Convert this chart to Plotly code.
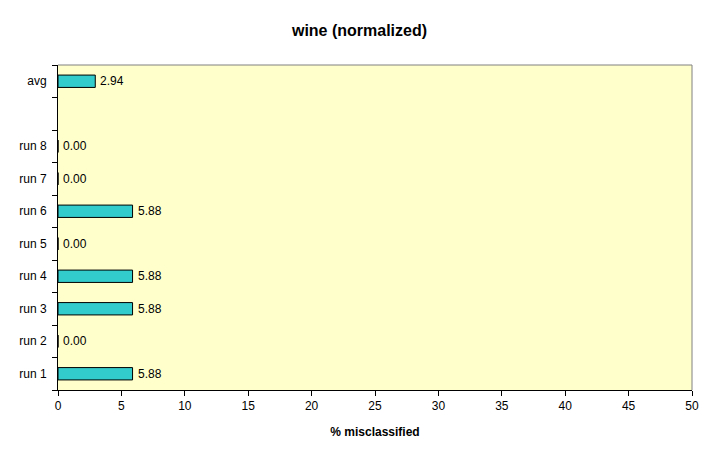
import plotly.graph_objects as go

categories = ["run 1", "run 2", "run 3", "run 4", "run 5", "run 6", "run 7", "run 8", " ", "avg"]
values = [5.88, 0.00, 5.88, 5.88, 0.00, 5.88, 0.00, 0.00, None, 2.94]
labels = ["5.88", "0.00", "5.88", "5.88", "0.00", "5.88", "0.00", "0.00", "", "2.94"]
x_ticks = [0, 5, 10, 15, 20, 25, 30, 35, 40, 45, 50]

font = "Liberation Sans, Arial, sans-serif"

fig = go.Figure()
fig.add_trace(go.Bar(
    x=values, y=categories, orientation="h",
    marker=dict(color="#33CCCC", line=dict(color="black", width=1)),
    hoverinfo="skip",
))

for v, c, t in zip(values, categories, labels):
    if v is None:
        continue
    fig.add_annotation(x=v, y=c, text=t, showarrow=False, xanchor="left",
                       yanchor="middle", xshift=3,
                       font=dict(family=font, size=12, color="black"))

fig.update_layout(
    width=719, height=461,
    margin=dict(l=58, r=27, t=65, b=71),
    paper_bgcolor="white", plot_bgcolor="#FFFFCC",
    showlegend=False, bargap=0.62,
    title=dict(text="<b>wine (normalized)</b>", x=0.5, xanchor="center",
               y=1 - 30 / 461, yanchor="middle",
               font=dict(family=font, size=16, color="black")),
    font=dict(family=font, size=12, color="black"),
)
fig.update_xaxes(
    range=[0, 50], tickvals=x_ticks, ticktext=[str(t) for t in x_ticks],
    showgrid=False, zeroline=False,
    showline=True, linecolor="black", linewidth=1,
    ticks="outside", ticklen=5, tickcolor="black",
    mirror=False,
    title=dict(text="<b>% misclassified</b>", font=dict(family=font, size=12), standoff=15),
)
fig.update_yaxes(
    categoryorder="array", categoryarray=categories,
    tickson="boundaries", showgrid=False, zeroline=False,
    showline=True, linecolor="black", linewidth=1,
    ticks="outside", ticklen=5, tickcolor="black",
    ticklabelstandoff=8,
)
# gray top/right border
fig.add_shape(type="line", xref="paper", yref="paper", x0=0, x1=1, y0=1, y1=1,
              line=dict(color="#808080", width=1))
fig.add_shape(type="line", xref="paper", yref="paper", x0=1, x1=1, y0=0, y1=1,
              line=dict(color="#808080", width=1))

fig.write_html("out.html")
